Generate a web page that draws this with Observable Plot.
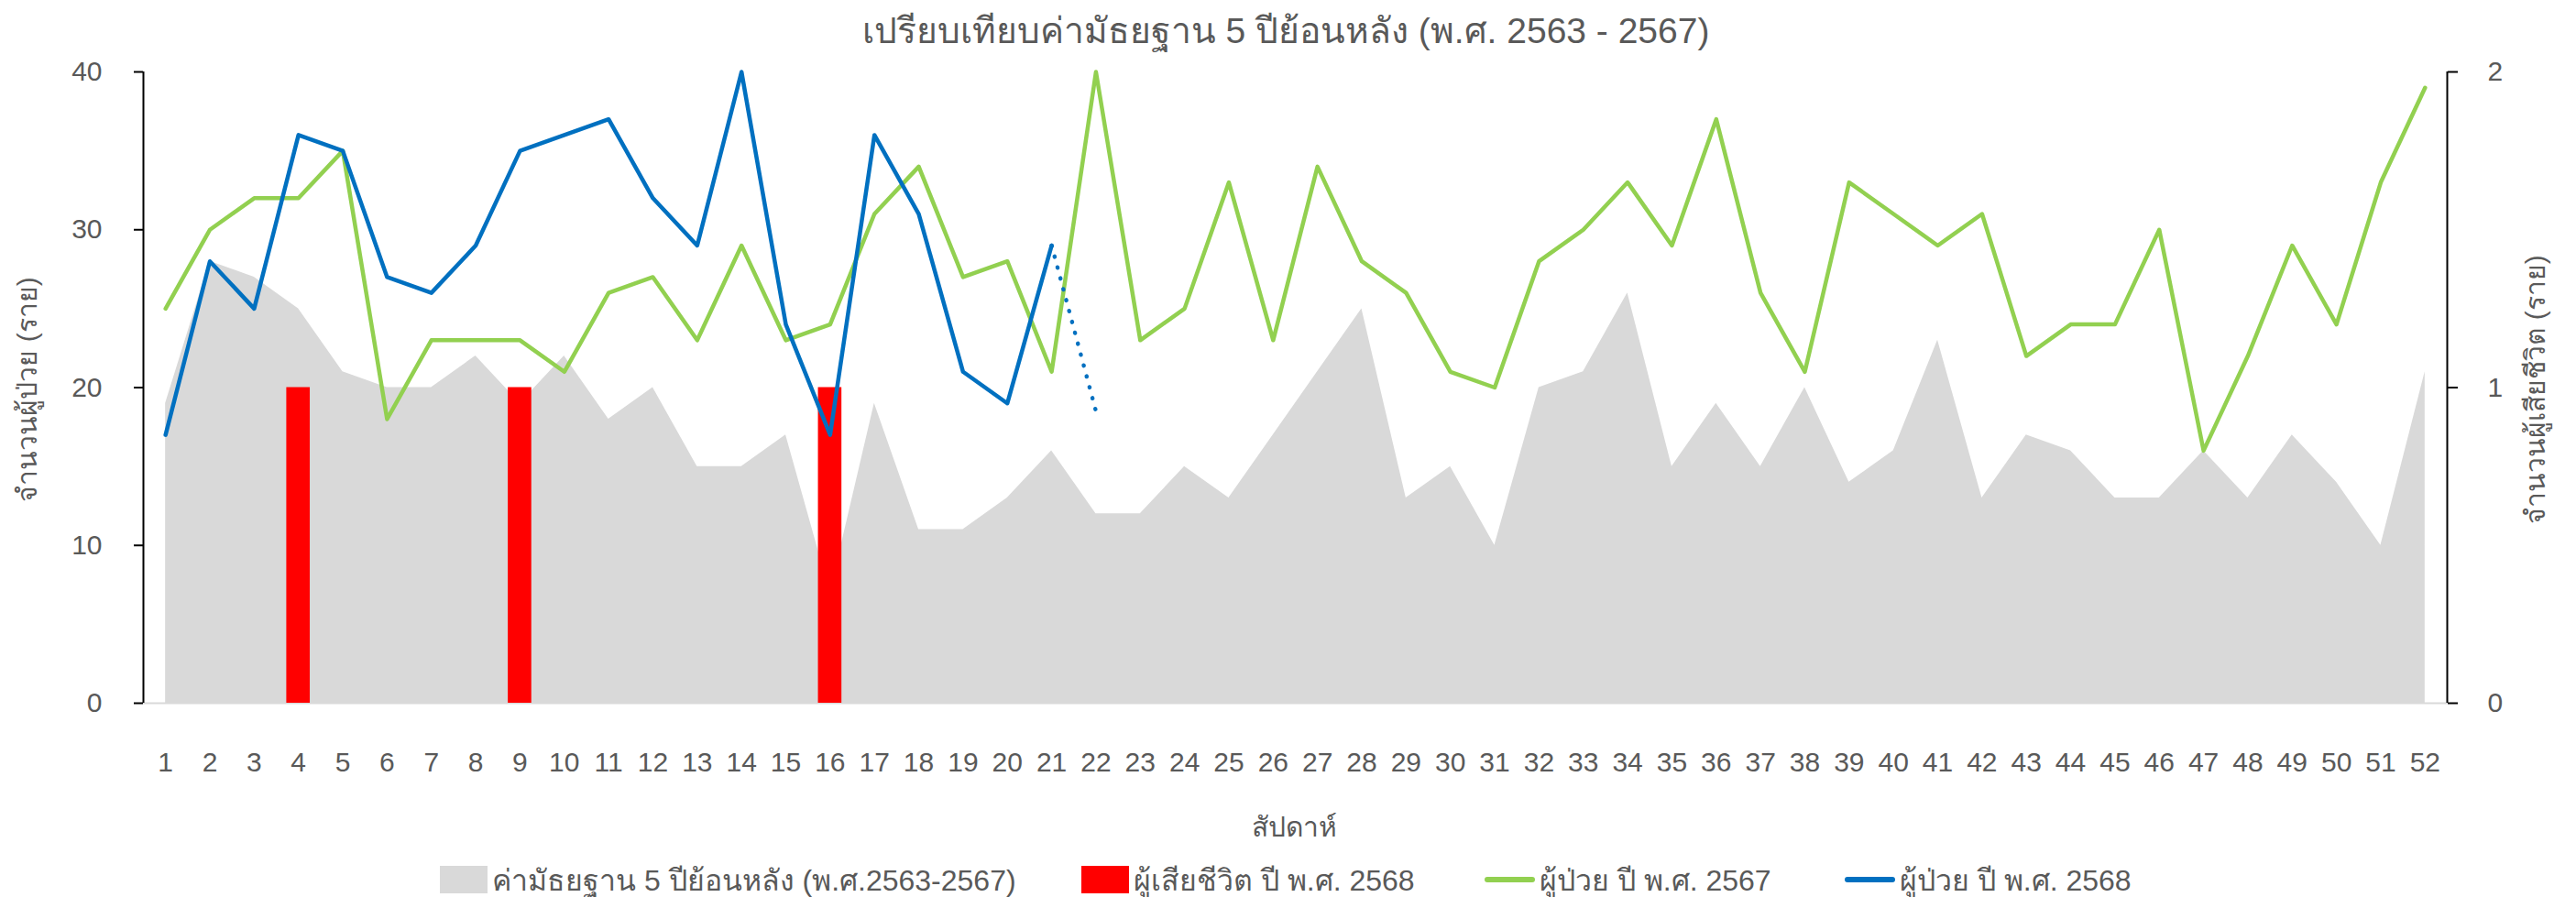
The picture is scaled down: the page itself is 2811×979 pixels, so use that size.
<!DOCTYPE html>
<html>
<head>
<meta charset="utf-8">
<script src="https://cdn.jsdelivr.net/npm/d3@7"></script>
<script src="https://cdn.jsdelivr.net/npm/@observablehq/plot@0.6"></script>
<style>
  body { margin: 0; background: #fff; }
  #wrap { position: relative; width: 2811px; height: 979px; overflow: hidden;
          font-family: "Liberation Sans", "Noto Sans", sans-serif; color: #595959; }
  .abs { position: absolute; white-space: nowrap; line-height: 1; }
  .item { position: absolute; top: 942px; height: 36px; display: flex; align-items: center;
          font-size: 32px; white-space: nowrap; }
  .sw { display: inline-block; margin-right: 5px; flex: none; }
</style>
</head>
<body>
<div id="wrap"></div>
<script>
// ---------------- data ----------------
const weeks = [1,2,3,4,5,6,7,8,9,10,11,12,13,14,15,16,17,18,19,20,21,22,23,24,25,26,
               27,28,29,30,31,32,33,34,35,36,37,38,39,40,41,42,43,44,45,46,47,48,49,50,51,52];
// median of previous 5 years (2563-2567)
const median = [19,28,27,25,21,20,20,22,19,22,18,20,15,15,17,7,19,11,11,13,16,12,12,15,13,17,
                21,25,13,15,10,20,21,26,15,19,15,20,14,16,23,13,17,16,13,13,16,13,17,14,10,21];
// patients 2567
const cases2567 = [25,30,32,32,35,18,23,23,23,21,26,27,23,29,23,24,31,34,27,28,21,40,23,25,33,23,
                   34,28,26,21,20,28,30,33,29,37,26,21,33,31,29,31,22,24,24,30,16,22,29,24,33,39];
// patients 2568 (weeks 1-21)
const weeks2568 = [1,2,3,4,5,6,7,8,9,10,11,12,13,14,15,16,17,18,19,20,21];
const cases2568 = [17,28,25,36,35,27,26,29,35,36,37,32,29,40,24,17,36,31,21,19,29];
// provisional (dotted) segment 2568
const provWeeks = [21, 22];
const provCases = [29, 18.5];
// deaths 2568 (right axis)
const deathWeeks = [4, 9, 16];
const deaths = [1, 1, 1];
// tick labels
const leftTicks = [0, 10, 20, 30, 40];
const rightTicks = [0, 1, 2];

const title = "เปรียบเทียบค่ามัธยฐาน 5 ปีย้อนหลัง (พ.ศ. 2563 - 2567)";
const yLeftLabel = "จำนวนผู้ป่วย (ราย)";
const yRightLabel = "จำนวนผู้เสียชีวิต (ราย)";
const xLabel = "สัปดาห์";
const legendLabels = ["ค่ามัธยฐาน 5 ปีย้อนหลัง (พ.ศ.2563-2567)", "ผู้เสียชีวิต ปี พ.ศ. 2568",
                      "ผู้ป่วย ปี พ.ศ. 2567", "ผู้ป่วย ปี พ.ศ. 2568"];
const colors = {median: "#D9D9D9", death: "#FF0000", c2567: "#92D050", c2568: "#0070C0"};

// ---------------- tables ----------------
const rows = weeks.map((w, i) => ({week: w, median: median[i], c2567: cases2567[i]}));
const rows2568 = weeks2568.map((w, i) => ({week: w, v: cases2568[i]}));
const provRows = provWeeks.map((w, i) => ({week: w, v: provCases[i]}));
const rightMax = 2, leftMax = 40, k = leftMax / rightMax;
const deathRows = deathWeeks.map((w, i) => ({week: w, d: deaths[i] * k}));

const font = '"Liberation Sans", "Noto Sans", sans-serif';
const chart = Plot.plot({
  width: 2811, height: 979,
  marginTop: 78, marginBottom: 212, marginLeft: 156, marginRight: 141,
  style: {fontFamily: font, fontSize: "30px", color: "#595959", background: "#fff"},
  x: {domain: [0.5, 52.5], axis: null},
  y: {domain: [0, leftMax], axis: null},
  marks: [
    Plot.areaY(rows, {x: "week", y: "median", fill: colors.median}),
    Plot.ruleY([0], {stroke: "#D9D9D9", strokeWidth: 2}),
    Plot.rectY(deathRows, {x1: d => d.week - 0.265, x2: d => d.week + 0.265, y: "d", fill: colors.death}),
    Plot.lineY(rows, {x: "week", y: "c2567", stroke: colors.c2567, strokeWidth: 4.5, strokeLinejoin: "round"}),
    Plot.lineY(rows2568, {x: "week", y: "v", stroke: colors.c2568, strokeWidth: 4.5, strokeLinejoin: "round"}),
    Plot.lineY(provRows, {x: "week", y: "v", stroke: colors.c2568, strokeWidth: 4.5,
                          strokeDasharray: "0.5 11.8", strokeLinecap: "round"}),
    Plot.ruleX([0.5, 52.5], {stroke: "#000", strokeWidth: 2}),
    Plot.axisX(weeks, {anchor: "bottom", tickSize: 0, tickPadding: 53, label: null,
                       tickFormat: d => String(d), fill: "#595959", fontSize: 30}),
    Plot.axisY(leftTicks, {anchor: "left", tickSize: 10, tickPadding: 35, label: null,
                           stroke: "#000", strokeWidth: 2, fill: "#595959", fontSize: 30,
                           tickFormat: d => String(d)}),
    Plot.axisY(rightTicks.map(t => t * k), {anchor: "right", tickSize: 11, tickPadding: 33, label: null,
                           stroke: "#000", strokeWidth: 2, fill: "#595959", fontSize: 30,
                           tickFormat: d => String(d / k)})
  ]
});

const wrap = document.getElementById("wrap");
wrap.appendChild(chart);
chart.style.position = "absolute"; chart.style.left = "0"; chart.style.top = "0";

function addText(txt, css) {
  const el = document.createElement("div");
  el.className = "abs";
  el.textContent = txt;
  Object.assign(el.style, css);
  wrap.appendChild(el);
  return el;
}
addText(title, {left: "1403px", top: "33px", fontSize: "39px", transform: "translate(-50%,-50%)"});
addText(xLabel, {left: "1412px", top: "903px", fontSize: "30px", transform: "translate(-50%,-50%)"});
addText(yLeftLabel, {left: "30px", top: "425px", fontSize: "30px", transform: "translate(-50%,-50%) rotate(-90deg)"});
addText(yRightLabel, {left: "2767px", top: "425px", fontSize: "30px", transform: "translate(-50%,-50%) rotate(-90deg)"});

// legend
const legendX = [480, 1180, 1620, 2013];
const legendKinds = ["box", "box", "line", "line"];
const legendColors = [colors.median, colors.death, colors.c2567, colors.c2568];
legendLabels.forEach((lab, i) => {
  const it = document.createElement("div");
  it.className = "item";
  it.style.left = legendX[i] + "px";
  const sw = document.createElement("span");
  sw.className = "sw";
  if (legendKinds[i] === "box") {
    Object.assign(sw.style, {width: "52px", height: "30px", background: legendColors[i]});
  } else {
    Object.assign(sw.style, {width: "55px", height: "6px", borderRadius: "3px", background: legendColors[i]});
  }
  const tx = document.createElement("span");
  tx.textContent = lab;
  it.appendChild(sw); it.appendChild(tx);
  wrap.appendChild(it);
});
</script>
</body>
</html>
